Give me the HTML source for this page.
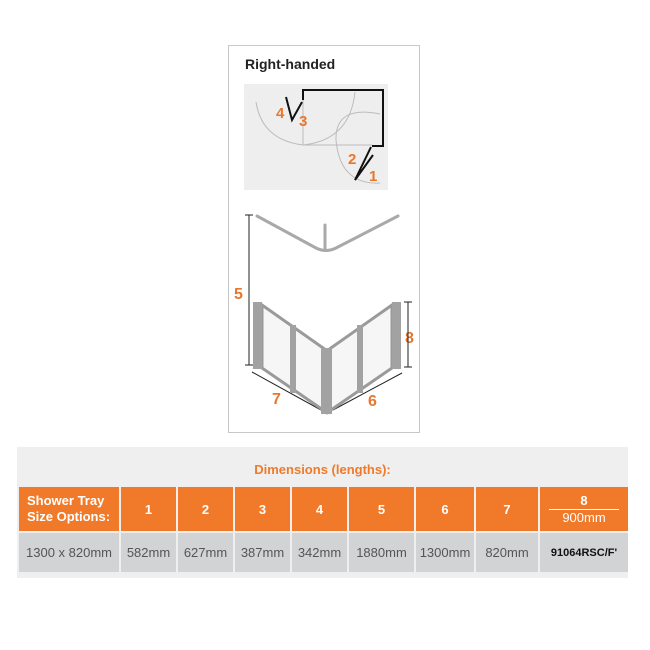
<!DOCTYPE html>
<html><head><style>
body{margin:0;width:650px;height:650px;background:#fff;position:relative;overflow:hidden;font-family:"Liberation Sans",sans-serif}
.box{position:absolute;left:228px;top:45px;width:192px;height:388px;border:1px solid #c8c8c8;box-sizing:border-box}
.tb{position:absolute;left:17px;top:447px;width:611px;height:131px;background:#efefef}
.c{position:absolute;display:flex;align-items:center;justify-content:center;font-family:"Liberation Sans Narrow","Liberation Sans",sans-serif;font-size:13px}
.o{background:#f07a2a;color:#fff;font-weight:bold;top:487px;height:44px}
.g{background:#d2d3d5;color:#555;top:533px;height:39px}
</style></head><body>
<div class="box"></div>
<svg width="650" height="650" style="position:absolute;left:0;top:0">
<text x="245" y="69" font-size="14" font-weight="bold" font-family="Liberation Sans" fill="#222">Right-handed</text>
<rect x="244" y="84" width="144" height="106" fill="#eeeeef"/>
<g fill="none" stroke="#bcbcbc" stroke-width="1">
<path d="M256 102 Q262 140 303 145 Q350 140 355 92"/>
<path d="M303 98 V145 H372"/>
<path d="M380 114 Q335 105 336 140 Q340 185 380 183"/>
</g>
<g fill="none" stroke="#111" stroke-width="2">
<path d="M303 100 V90 H383 V146 H372"/>
<path d="M286 97 L292 120 L302 102"/>
<path d="M371 147 L355 180 L373 155"/>
</g>
<g fill="#e8772e" font-weight="bold" font-size="15" font-family="Liberation Sans">
<text x="276" y="118">4</text><text x="299" y="126">3</text>
<text x="348" y="164">2</text><text x="369" y="181">1</text>
<text x="234" y="299" font-size="16">5</text><text x="405" y="343" font-size="16">8</text>
<text x="272" y="404" font-size="16">7</text><text x="368" y="406" font-size="16">6</text>
</g>
<g fill="none" stroke="#a9a9a9" stroke-width="3" stroke-linecap="round">
<path d="M257 216 L316 248 Q326 253 336 248 L398 216"/>
<path d="M325 225 V250"/>
</g>
<g stroke="#222" stroke-width="1">
<path d="M249 215 V365 M245 215 H253 M245 365 H253"/>
<path d="M408 302 V367 M404 302 H412 M404 367 H412"/>
<path d="M252 372 L321 410 M333 410 L402 373"/>
</g>
<g stroke="#9a9a9a" stroke-width="3" fill="#f6f6f6">
<polygon points="262,305 326,350 326,412 262,368"/>
<polygon points="392,305 328,350 328,412 392,368"/>
</g>
<g fill="#a2a2a2">
<rect x="253" y="302" width="9" height="67"/>
<rect x="392" y="302" width="9" height="67"/>
<rect x="290" y="325" width="6" height="68"/>
<rect x="357" y="325" width="6" height="68"/>
<rect x="321" y="348" width="11" height="66"/>
</g>
</svg>
<div class="tb"></div>
<div class="c" style="left:17px;top:458px;width:611px;height:22px;color:#f07a2a;font-weight:bold;font-size:13px">Dimensions (lengths):</div>
<div class="c o" style="left:19px;width:100px;justify-content:flex-start;padding-left:8px;box-sizing:border-box;line-height:16px">Shower Tray<br>Size Options:</div>
<div class="c o" style="left:121px;width:55px">1</div>
<div class="c o" style="left:178px;width:55px">2</div>
<div class="c o" style="left:235px;width:55px">3</div>
<div class="c o" style="left:292px;width:55px">4</div>
<div class="c o" style="left:349px;width:65px">5</div>
<div class="c o" style="left:416px;width:58px">6</div>
<div class="c o" style="left:476px;width:62px">7</div>
<div class="c o" style="left:540px;width:88px;flex-direction:column;line-height:16px"><span>8</span><span style="border-top:1px solid #fff;width:70px;text-align:center;font-weight:normal">900mm</span></div>
<div class="c g" style="left:19px;width:100px">1300 x 820mm</div>
<div class="c g" style="left:121px;width:55px">582mm</div>
<div class="c g" style="left:178px;width:55px">627mm</div>
<div class="c g" style="left:235px;width:55px">387mm</div>
<div class="c g" style="left:292px;width:55px">342mm</div>
<div class="c g" style="left:349px;width:65px">1880mm</div>
<div class="c g" style="left:416px;width:58px">1300mm</div>
<div class="c g" style="left:476px;width:62px">820mm</div>
<div class="c g" style="left:540px;width:88px;color:#111;font-weight:bold;font-size:11px">91064RSC/F'</div>
</body></html>
